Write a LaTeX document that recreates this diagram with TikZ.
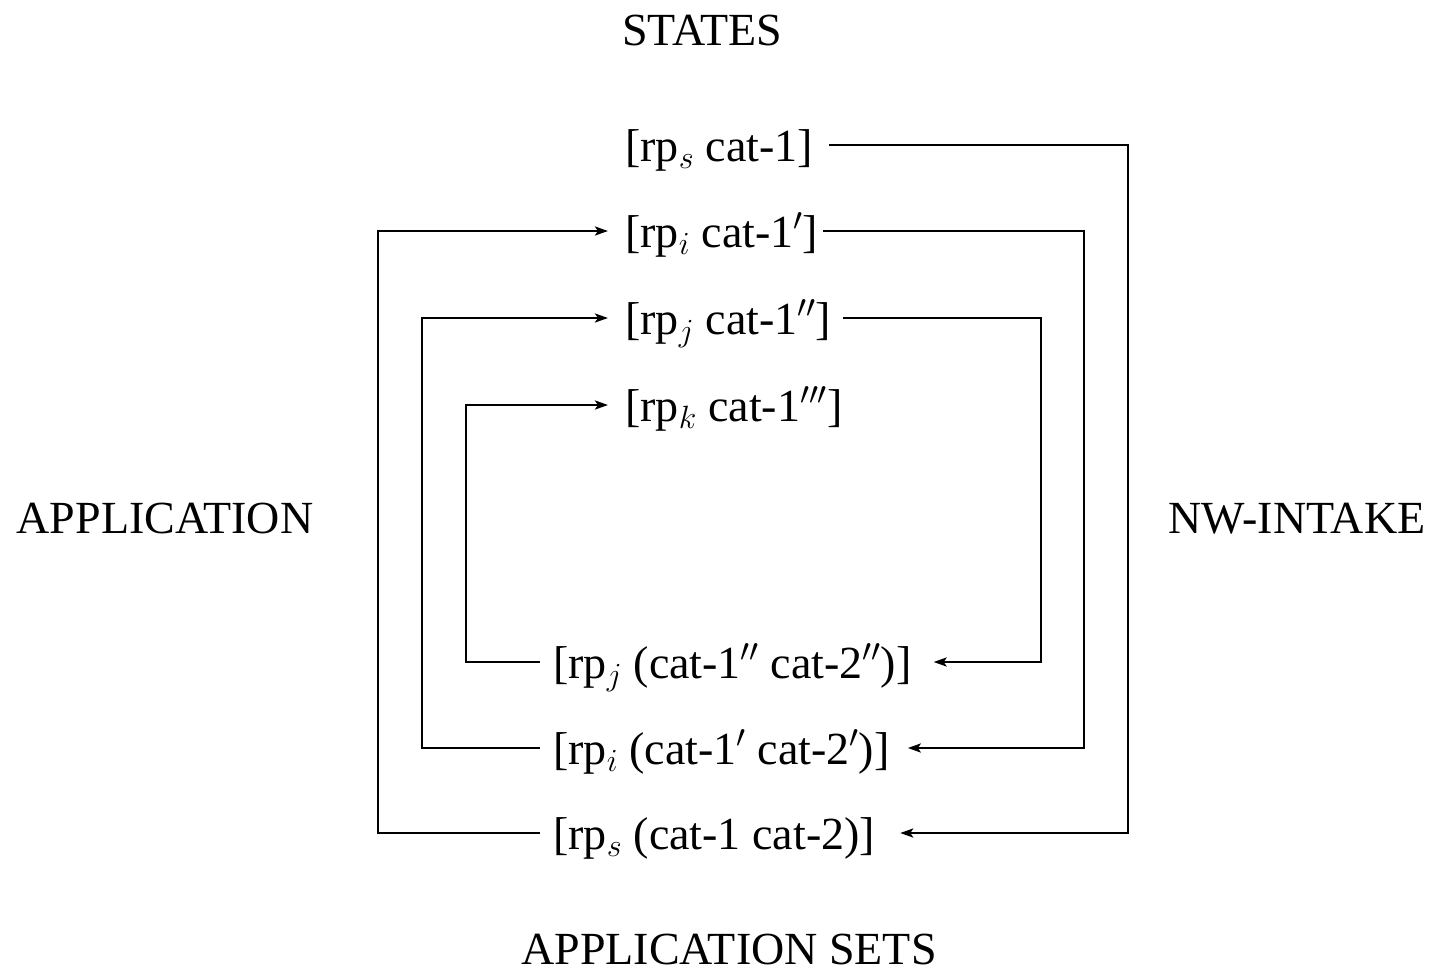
\RequirePackage{fix-cm}
\documentclass[tikz,border=0pt]{standalone}
\usepackage{fontspec}
\setmainfont{Liberation Serif}
\usetikzlibrary{arrows.meta}
\begin{document}
\begin{tikzpicture}[x=1pt,y=-1pt,
  lbl/.style={font=\fontsize{46}{54}\selectfont, inner sep=0pt, text height=40pt, text depth=7pt},
  title/.style={font=\fontsize{46}{54}\selectfont, inner sep=0pt, text height=33pt, text depth=0pt},
  ln/.style={line width=2.9pt},
  arr/.style={ln, -{Stealth[length=13pt,width=9pt,inset=3pt]}}]
\useasboundingbox (0,0) rectangle (1432,969);
\node[title] (states) at (702,28.5) {STATES};
\node[title] (appsets) at (729,947.5) {APPLICATION SETS};
\node[title] (appl) at (165,516.5) {APPLICATION};
\node[title] (nwin) at (1297,516.5) {NW-INTAKE};
\node[lbl,anchor=west] (s1) at (625,145) {[rp$_s$ cat-1]};
\node[lbl,anchor=west] (s2) at (625,231) {[rp$_i$ cat-1$'$]};
\node[lbl,anchor=west] (s3) at (625,318) {[rp$_j$ cat-1$''$]};
\node[lbl,anchor=west] (s4) at (625,405) {[rp$_k$ cat-1$'''$]};
\node[lbl,anchor=west] (a3) at (553,662) {[rp$_j$ (cat-1$''$ cat-2$''$)]};
\node[lbl,anchor=west] (a2) at (553,748) {[rp$_i$ (cat-1$'$ cat-2$'$)]};
\node[lbl,anchor=west] (a1) at (553,833) {[rp$_s$ (cat-1 cat-2)]};
\coordinate (R1) at (1128,500);
\coordinate (R2) at (1084,500);
\coordinate (R3) at (1041,500);
\coordinate (L1) at (378,500);
\coordinate (L2) at (422,500);
\coordinate (L3) at (466,500);
\draw[arr] ([xshift=16pt]s1.east) -| (R1) |- ([xshift=25pt]a1.east);
\draw[arr] ([xshift=5pt]s2.east) -| (R2) |- ([xshift=18pt]a2.east);
\draw[arr] ([xshift=12pt]s3.east) -| (R3) |- ([xshift=22pt]a3.east);
\draw[arr] ([xshift=-13pt]a1.west) -| (L1) |- ([xshift=-17pt]s2.west);
\draw[arr] ([xshift=-13pt]a2.west) -| (L2) |- ([xshift=-17pt]s3.west);
\draw[arr] ([xshift=-13pt]a3.west) -| (L3) |- ([xshift=-17pt]s4.west);
\end{tikzpicture}
\end{document}
